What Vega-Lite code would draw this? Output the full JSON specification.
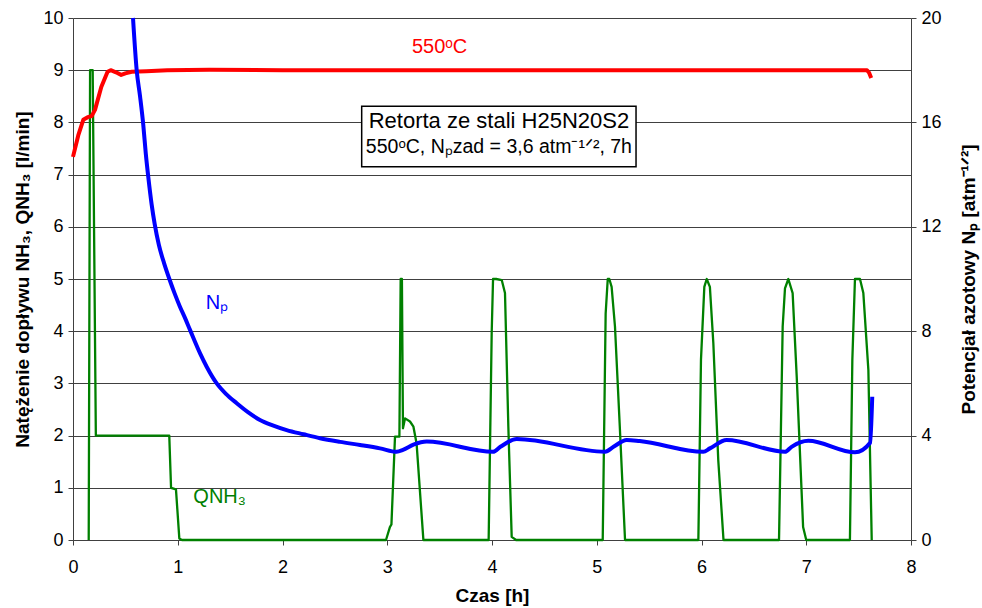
{
  "$schema": "https://vega.github.io/schema/vega-lite/v6.json",
  "width": 838,
  "height": 522,
  "autosize": {"type": "none"},
  "padding": {"left": 73, "top": 18, "right": 71, "bottom": 68},
  "background": "white",
  "config": {
    "font": "Liberation Sans",
    "view": {"stroke": null},
    "scale": {"continuousPadding": 0},
    "axis": {
      "labelFont": "Liberation Sans",
      "titleFont": "Liberation Sans",
      "labelFontSize": 18,
      "titleFontSize": 19,
      "titleFontWeight": "bold",
      "labelColor": "#000000",
      "titleColor": "#000000",
      "domainColor": "#404040",
      "tickColor": "#404040",
      "gridColor": "#404040",
      "gridOpacity": 1,
      "tickSize": 5,
      "labelPadding": 5,
      "labelFlush": false
    }
  },
  "datasets": {
    "qnh": [
      {"t": 0.150, "v": 0}, {"t": 0.163, "v": 9}, {"t": 0.188, "v": 9}, {"t": 0.218, "v": 2.0},
      {"t": 0.5, "v": 2.0}, {"t": 0.919, "v": 2.0}, {"t": 0.936, "v": 1.0}, {"t": 0.983, "v": 0.97},
      {"t": 1.015, "v": 0.03}, {"t": 1.04, "v": 0}, {"t": 2.0, "v": 0}, {"t": 2.988, "v": 0},
      {"t": 3.026, "v": 0.25}, {"t": 3.04, "v": 0.3}, {"t": 3.074, "v": 1.98}, {"t": 3.116, "v": 1.98},
      {"t": 3.128, "v": 5.0}, {"t": 3.14, "v": 5.0}, {"t": 3.15, "v": 2.14}, {"t": 3.17, "v": 2.33},
      {"t": 3.217, "v": 2.27}, {"t": 3.25, "v": 2.17}, {"t": 3.28, "v": 1.85}, {"t": 3.345, "v": 0},
      {"t": 3.968, "v": 0}, {"t": 3.997, "v": 3.96}, {"t": 4.01, "v": 5.0}, {"t": 4.04, "v": 5.0},
      {"t": 4.093, "v": 4.98}, {"t": 4.124, "v": 4.73}, {"t": 4.14, "v": 3.45}, {"t": 4.156, "v": 2.17},
      {"t": 4.188, "v": 0.06}, {"t": 4.23, "v": 0}, {"t": 5.057, "v": 0}, {"t": 5.085, "v": 4.34},
      {"t": 5.105, "v": 5.0}, {"t": 5.12, "v": 5.0}, {"t": 5.142, "v": 4.85}, {"t": 5.174, "v": 4.09},
      {"t": 5.22, "v": 2.17}, {"t": 5.27, "v": 0}, {"t": 5.97, "v": 0}, {"t": 5.995, "v": 3.45},
      {"t": 6.027, "v": 4.85}, {"t": 6.05, "v": 5.0}, {"t": 6.08, "v": 4.85}, {"t": 6.113, "v": 3.77},
      {"t": 6.16, "v": 1.53}, {"t": 6.21, "v": 0}, {"t": 6.74, "v": 0}, {"t": 6.775, "v": 4.09},
      {"t": 6.797, "v": 4.82}, {"t": 6.829, "v": 5.0}, {"t": 6.87, "v": 4.73}, {"t": 6.909, "v": 3.13},
      {"t": 6.97, "v": 0.25}, {"t": 7.0, "v": 0}, {"t": 7.417, "v": 0}, {"t": 7.44, "v": 3.45},
      {"t": 7.465, "v": 5.0}, {"t": 7.513, "v": 5.0}, {"t": 7.545, "v": 4.73}, {"t": 7.593, "v": 3.26},
      {"t": 7.625, "v": 0}
    ],
    "temp": [
      {"t": 0, "v": 7.34}, {"t": 0.05, "v": 7.75}, {"t": 0.098, "v": 8.05}, {"t": 0.14, "v": 8.1},
      {"t": 0.178, "v": 8.12}, {"t": 0.21, "v": 8.24}, {"t": 0.27, "v": 8.68}, {"t": 0.33, "v": 8.97},
      {"t": 0.36, "v": 9.0}, {"t": 0.41, "v": 8.96}, {"t": 0.46, "v": 8.91}, {"t": 0.5, "v": 8.94},
      {"t": 0.56, "v": 8.97}, {"t": 0.7, "v": 8.98}, {"t": 0.9, "v": 9.0}, {"t": 1.3, "v": 9.01},
      {"t": 2.0, "v": 9.0}, {"t": 3.0, "v": 9.0}, {"t": 4.0, "v": 9.0}, {"t": 5.0, "v": 9.0},
      {"t": 6.0, "v": 9.0}, {"t": 7.0, "v": 9.0}, {"t": 7.58, "v": 9.0}, {"t": 7.6, "v": 8.95},
      {"t": 7.62, "v": 8.85}
    ],
    "np": [
      {"t": 0.573, "np": 20}, {"t": 0.608, "np": 18.0}, {"t": 0.64, "np": 17.0}, {"t": 0.671, "np": 15.9},
      {"t": 0.695, "np": 14.8}, {"t": 0.719, "np": 13.9}, {"t": 0.751, "np": 12.85}, {"t": 0.78, "np": 12.1},
      {"t": 0.82, "np": 11.3}, {"t": 0.87, "np": 10.6}, {"t": 0.920, "np": 10.0}, {"t": 0.97, "np": 9.45},
      {"t": 1.021, "np": 8.94}, {"t": 1.07, "np": 8.5}, {"t": 1.117, "np": 8.05}, {"t": 1.212, "np": 7.16},
      {"t": 1.276, "np": 6.64}, {"t": 1.372, "np": 6.0}, {"t": 1.46, "np": 5.6}, {"t": 1.563, "np": 5.24},
      {"t": 1.67, "np": 4.9}, {"t": 1.785, "np": 4.6}, {"t": 1.9, "np": 4.4}, {"t": 2.04, "np": 4.21},
      {"t": 2.2, "np": 4.05}, {"t": 2.358, "np": 3.9}, {"t": 2.55, "np": 3.76}, {"t": 2.74, "np": 3.64},
      {"t": 2.931, "np": 3.51}, {"t": 3.09, "np": 3.38}, {"t": 3.15, "np": 3.45}, {"t": 3.25, "np": 3.65},
      {"t": 3.377, "np": 3.77}, {"t": 4.01, "np": 3.38}, {"t": 4.08, "np": 3.57}, {"t": 4.236, "np": 3.87},
      {"t": 5.08, "np": 3.38}, {"t": 5.16, "np": 3.57}, {"t": 5.286, "np": 3.83}, {"t": 5.41, "np": 3.79},
      {"t": 6.017, "np": 3.38}, {"t": 6.08, "np": 3.51}, {"t": 6.24, "np": 3.83}, {"t": 6.797, "np": 3.38},
      {"t": 6.86, "np": 3.57}, {"t": 7.02, "np": 3.8}, {"t": 7.465, "np": 3.36}, {"t": 7.61, "np": 3.73},
      {"t": 7.63, "np": 5.49}
    ],
    "box": [{"x1": 2.756, "x2": 5.375, "y1": 7.15, "y2": 8.31}],
    "boxtext1": [{"t": 4.066, "v": 8.03, "label": "Retorta ze stali H25N20S2"}],
    "boxtext2": [{"t": 4.066, "v": 7.53, "label": "550ᵒC, Nₚzad = 3,6 atm⁻¹ᐟ², 7h"}],
    "lab_temp": [{"t": 3.5, "v": 9.44, "label": "550ᵒC"}],
    "lab_np": [{"t": 1.375, "v": 4.54, "label": "Nₚ"}],
    "lab_qnh": [{"t": 1.40, "v": 0.82, "label": "QNH₃"}]
  },
  "layer": [
    {
      "layer": [
        {
          "data": {"name": "qnh"},
          "mark": {"type": "line", "color": "#008000", "strokeWidth": 2.3, "strokeJoin": "round"},
          "encoding": {
            "x": {"field": "t", "type": "quantitative", "title": "Czas [h]", "scale": {"domain": [0, 8], "padding": 0, "nice": false, "zero": false}, "axis": {"values": [0, 1, 2, 3, 4, 5, 6, 7, 8], "format": "d", "grid": false, "labelPadding": 13, "titlePadding": 10, "labelFlush": false}},
            "y": {"field": "v", "type": "quantitative", "title": "Natężenie dopływu NH₃, QNH₃ [l/min]", "scale": {"domain": [0, 10], "padding": 0, "nice": false}, "axis": {"orient": "left", "values": [0, 1, 2, 3, 4, 5, 6, 7, 8, 9, 10], "format": "d", "grid": true, "titlePadding": 10, "labelFlush": false}}
          }
        },
        {
          "data": {"name": "temp"},
          "mark": {"type": "line", "color": "#ff0000", "strokeWidth": 4, "strokeJoin": "round"},
          "encoding": {
            "x": {"field": "t", "type": "quantitative", "title": "Czas [h]", "scale": {"domain": [0, 8], "padding": 0, "nice": false, "zero": false}},
            "y": {"field": "v", "type": "quantitative", "title": "Natężenie dopływu NH₃, QNH₃ [l/min]", "scale": {"domain": [0, 10], "padding": 0, "nice": false}}
          }
        },
        {
          "data": {"name": "box"},
          "mark": {"type": "rect", "fill": "white", "stroke": "#000000", "strokeWidth": 1.5},
          "encoding": {
            "x": {"field": "x1", "type": "quantitative", "title": "Czas [h]", "scale": {"domain": [0, 8], "padding": 0, "nice": false, "zero": false}},
            "x2": {"field": "x2"},
            "y": {"field": "y1", "type": "quantitative", "title": "Natężenie dopływu NH₃, QNH₃ [l/min]", "scale": {"domain": [0, 10], "padding": 0, "nice": false}},
            "y2": {"field": "y2"}
          }
        },
        {
          "data": {"name": "boxtext1"},
          "mark": {"type": "text", "fontSize": 22, "color": "#000000", "align": "center", "baseline": "middle"},
          "encoding": {
            "x": {"field": "t", "type": "quantitative", "title": "Czas [h]", "scale": {"domain": [0, 8], "padding": 0, "nice": false, "zero": false}},
            "y": {"field": "v", "type": "quantitative", "title": "Natężenie dopływu NH₃, QNH₃ [l/min]", "scale": {"domain": [0, 10], "padding": 0, "nice": false}},
            "text": {"field": "label"}
          }
        },
        {
          "data": {"name": "boxtext2"},
          "mark": {"type": "text", "fontSize": 19.5, "color": "#000000", "align": "center", "baseline": "middle"},
          "encoding": {
            "x": {"field": "t", "type": "quantitative", "title": "Czas [h]", "scale": {"domain": [0, 8], "padding": 0, "nice": false, "zero": false}},
            "y": {"field": "v", "type": "quantitative", "title": "Natężenie dopływu NH₃, QNH₃ [l/min]", "scale": {"domain": [0, 10], "padding": 0, "nice": false}},
            "text": {"field": "label"}
          }
        },
        {
          "data": {"name": "lab_temp"},
          "mark": {"type": "text", "fontSize": 20, "color": "#ff0000", "align": "center", "baseline": "middle"},
          "encoding": {
            "x": {"field": "t", "type": "quantitative", "title": "Czas [h]", "scale": {"domain": [0, 8], "padding": 0, "nice": false, "zero": false}},
            "y": {"field": "v", "type": "quantitative", "title": "Natężenie dopływu NH₃, QNH₃ [l/min]", "scale": {"domain": [0, 10], "padding": 0, "nice": false}},
            "text": {"field": "label"}
          }
        },
        {
          "data": {"name": "lab_np"},
          "mark": {"type": "text", "fontSize": 20, "color": "#0000ff", "align": "center", "baseline": "middle"},
          "encoding": {
            "x": {"field": "t", "type": "quantitative", "title": "Czas [h]", "scale": {"domain": [0, 8], "padding": 0, "nice": false, "zero": false}},
            "y": {"field": "v", "type": "quantitative", "title": "Natężenie dopływu NH₃, QNH₃ [l/min]", "scale": {"domain": [0, 10], "padding": 0, "nice": false}},
            "text": {"field": "label"}
          }
        },
        {
          "data": {"name": "lab_qnh"},
          "mark": {"type": "text", "fontSize": 20, "color": "#008000", "align": "center", "baseline": "middle"},
          "encoding": {
            "x": {"field": "t", "type": "quantitative", "title": "Czas [h]", "scale": {"domain": [0, 8], "padding": 0, "nice": false, "zero": false}},
            "y": {"field": "v", "type": "quantitative", "title": "Natężenie dopływu NH₃, QNH₃ [l/min]", "scale": {"domain": [0, 10], "padding": 0, "nice": false}},
            "text": {"field": "label"}
          }
        }
      ]
    },
    {
      "data": {"name": "np"},
      "mark": {"type": "line", "color": "#0000ff", "strokeWidth": 4, "strokeJoin": "round", "interpolate": "monotone"},
      "encoding": {
        "x": {"field": "t", "type": "quantitative", "title": "Czas [h]", "scale": {"domain": [0, 8], "padding": 0, "nice": false, "zero": false}},
        "y": {"field": "np", "type": "quantitative", "title": "Potencjał azotowy Nₚ [atm⁻¹ᐟ²]", "scale": {"domain": [0, 20], "padding": 0, "nice": false}, "axis": {"orient": "right", "values": [0, 4, 8, 12, 16, 20], "format": "d", "grid": false, "titleAngle": 270, "titleBaseline": "middle", "titleAlign": "center", "titleX": 57, "titleY": 261, "labelFlush": false}}
      }
    }
  ],
  "resolve": {"scale": {"y": "independent"}}
}
